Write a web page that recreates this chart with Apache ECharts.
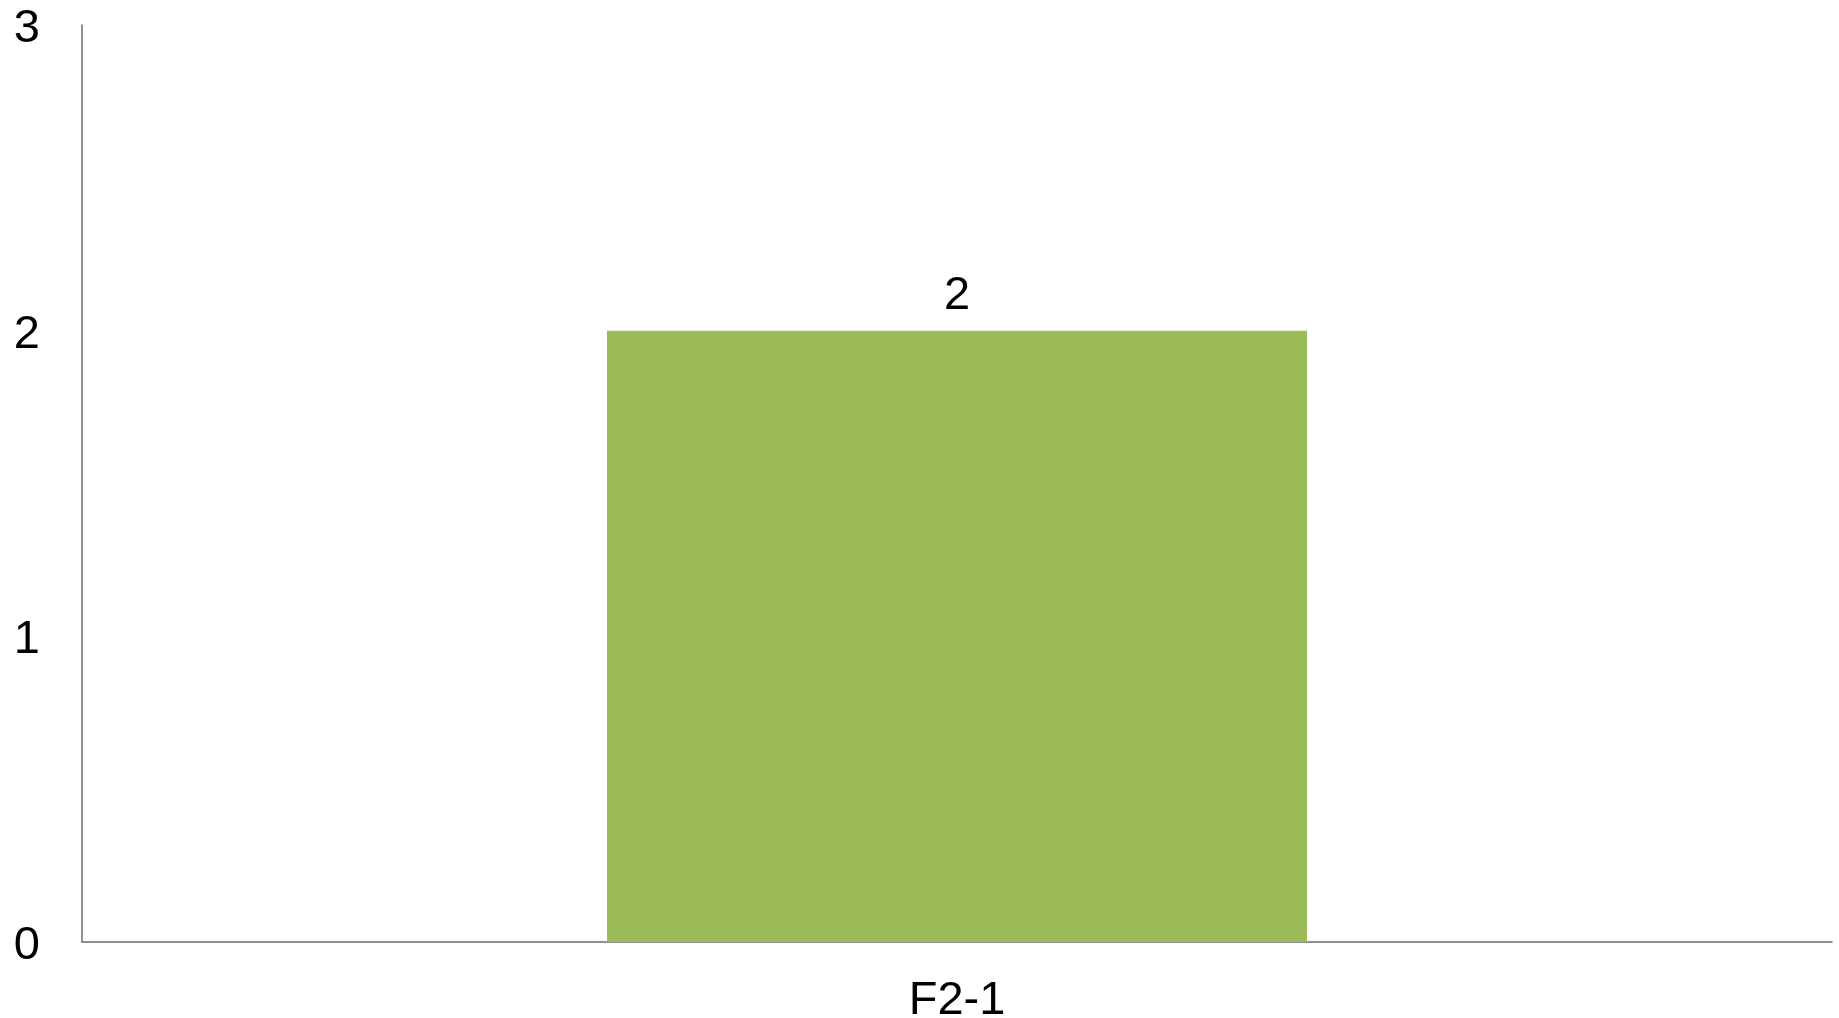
<!DOCTYPE html>
<html><head><meta charset="utf-8">
<script src="https://cdn.jsdelivr.net/npm/echarts@6/dist/echarts.min.js"></script>
<style>html,body{margin:0;padding:0;background:#fff}#c{width:1839px;height:1018px}</style>
</head><body><div id="c"></div>
<script>
const categories = ['F2-1'];
const values = [2];
const yTicks = [0, 1, 2, 3];

const chart = echarts.init(document.getElementById('c'));
chart.setOption({
  animation: false,
  grid: { left: 82, right: 7, top: 25, bottom: 76, containLabel: false, outerBoundsMode: 'none' },
  xAxis: {
    type: 'category', data: categories,
    axisLine: { lineStyle: { color: '#6e6e6e', width: 1.5 } },
    axisTick: { show: false },
    axisLabel: { fontFamily: 'Liberation Sans', fontSize: 47, color: '#000', margin: 36 }
  },
  yAxis: {
    type: 'value', min: yTicks[0], max: yTicks[yTicks.length - 1], interval: 1,
    axisLine: { show: true, lineStyle: { color: '#6e6e6e', width: 1.5 } },
    axisTick: { show: false },
    splitLine: { show: false },
    axisLabel: {
      margin: 42,
      formatter: '{a|{value}}',
      rich: { a: { fontFamily: 'Liberation Sans', fontSize: 47, color: '#000', padding: [8, 0, 0, 0] } }
    }
  },
  series: [{
    type: 'bar', data: values, barWidth: '40%',
    itemStyle: { color: '#9BBB59' },
    label: { show: true, position: 'top', distance: 11, fontFamily: 'Liberation Sans', fontSize: 47, color: '#000' }
  }]
});
</script></body></html>
